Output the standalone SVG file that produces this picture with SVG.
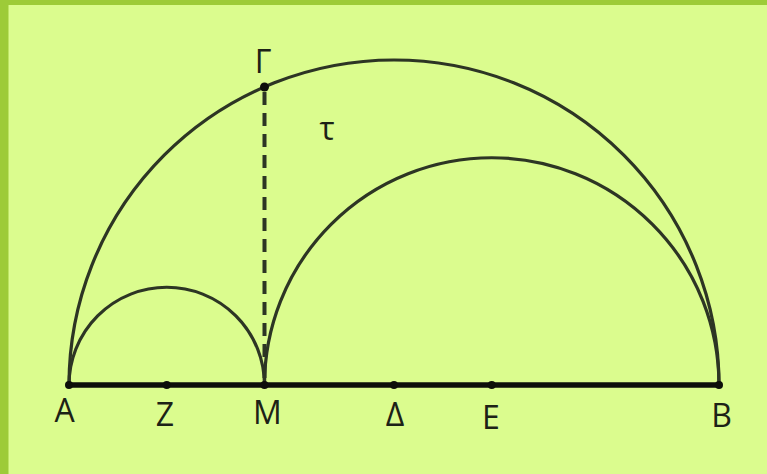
<svg xmlns="http://www.w3.org/2000/svg" width="767" height="474" viewBox="0 0 767 474">
<style>
.arc{fill:none;stroke:#2d3524;stroke-width:3.2}
.base{stroke:#0d0f0a;stroke-width:5.5;stroke-linecap:round}
.dash{stroke:#2d3524;stroke-width:4;stroke-dasharray:13 8}
.pt{fill:#0d0f0a}
.lbl{font-family:"Open Sans","Liberation Sans",sans-serif;font-size:32px;fill:#1c2216;text-anchor:middle}
</style>
<rect x="0" y="0" width="767" height="474" fill="#9dcb38"/>
<rect x="8.5" y="5" width="758.5" height="469" fill="#dbfc8e"/>
<g id="connectors">
<path class="arc" d="M69 385 A325 325 0 0 1 719 385"/>
<path class="arc" d="M69 385 A97.75 97.75 0 0 1 264.5 385"/>
<path class="arc" d="M264.5 385 A227.25 227.25 0 0 1 719 385"/>
<line class="dash" x1="264.5" y1="92" x2="264.5" y2="382"/>
<line class="base" x1="69" y1="385" x2="719" y2="385"/>
</g>
<g id="A"><circle class="pt" cx="69" cy="385" r="4"/><text class="lbl" x="64.5" y="422">A</text></g>
<g id="Z"><circle class="pt" cx="166.75" cy="385" r="4"/><text class="lbl" x="165" y="426">Z</text></g>
<g id="M"><circle class="pt" cx="264.5" cy="385" r="4"/><text class="lbl" x="267.5" y="424">M</text></g>
<g id="Delta"><circle class="pt" cx="394" cy="385" r="4"/><text class="lbl" x="395" y="426">Δ</text></g>
<g id="E"><circle class="pt" cx="491.75" cy="385" r="4"/><text class="lbl" x="491" y="429">E</text></g>
<g id="B"><circle class="pt" cx="719" cy="385" r="4"/><text class="lbl" x="721.5" y="427">B</text></g>
<g id="Gamma"><circle class="pt" cx="264.5" cy="87" r="4.5"/><text class="lbl" x="263" y="73">Γ</text></g>
<g id="tau"><text class="lbl" x="327" y="140">τ</text></g>
</svg>
